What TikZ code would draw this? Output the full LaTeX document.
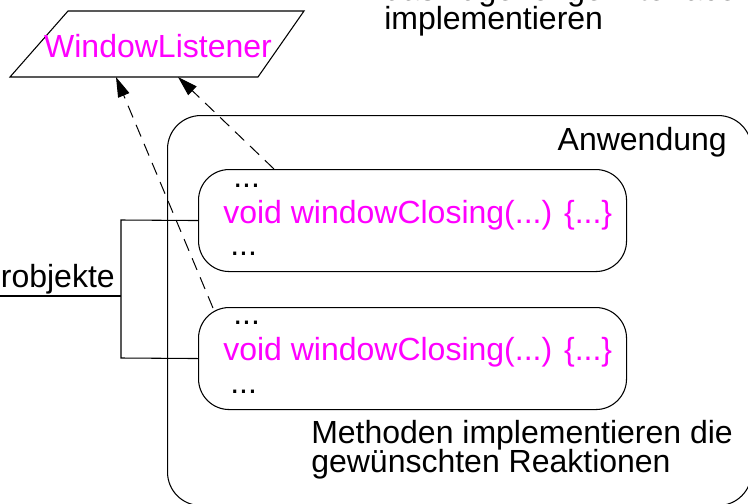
\documentclass[tikz,border=0pt]{standalone}
\usepackage{fontspec}
\setmainfont{Liberation Sans}
\usetikzlibrary{arrows.meta}
\definecolor{mag}{HTML}{FF00FF}
\begin{document}
\begin{tikzpicture}[x=0.75pt,y=-0.75pt,
  txt/.style={font=\fontsize{24pt}{26pt}\selectfont, inner sep=0pt, anchor=base west},
  mtxt/.style={txt, text=mag},
  box/.style={draw, line width=0.8pt, rounded corners=23pt, inner sep=0pt, anchor=north west},
  dep/.style={draw, line width=0.75pt, dash pattern=on 9.5pt off 6pt, -{Triangle[length=15pt,width=9pt]}},
  ln/.style={line width=0.8pt}]
\useasboundingbox (0,0) rectangle (748,503);
\clip (0,0) rectangle (748,503);
% interface parallelogram
\coordinate (pTL) at (68,11);
\coordinate (pTR) at (304,11);
\coordinate (pBR) at (258,77);
\coordinate (pBL) at (10,77);
\draw[ln] (pTL) -- (pTR) -- (pBR) -- (pBL) -- cycle;
\node[txt, text=mag, anchor=base] (wl) at (158,57) {WindowListener};
\coordinate (t1) at (116,77);
\coordinate (t2) at (178,77);
% top-right note
\node[txt] (note1) at (384,1) {das zugehörige Interface};
\node[txt] (note2) at (384,30) {implementieren};
% application box
\node[box, minimum width=584*0.75pt, minimum height=390*0.75pt, rounded corners=25pt] (app) at (167,115) {};
\node[txt, anchor=base east] (appl) at (727,150) {Anwendung};
% method boxes
\node[box, minimum width=428*0.75pt, minimum height=102*0.75pt] (m1) at (198,169) {};
\node[box, minimum width=428*0.75pt, minimum height=102*0.75pt] (m2) at (198,307) {};
\node[txt] (m1a) at (233,187) {...};
\node[mtxt] (m1b) at (223,223) {void windowClosing(...) \{...\}};
\node[txt] (m1c) at (230,255) {...};
\node[txt] (m2a) at (233,324) {...};
\node[mtxt] (m2b) at (223,360) {void windowClosing(...) \{...\}};
\node[txt] (m2c) at (230,393) {...};
% reactions note
\node[txt] (r1) at (311,443) {Methoden implementieren die};
\node[txt] (r2) at (311,472) {gewünschten Reaktionen};
% listener objects bracket
\node[txt, anchor=base east] (lo) at (115,287) {Listenerobjekte};
\coordinate (b1) at (121,220);
\coordinate (b2) at (121,358);
\coordinate (bm) at (121,296);
\coordinate (b0) at (0,296);
\draw[ln] (m1.west) -- (b1) -- (b2) -- (m2.west);
\draw[ln] (b0) -- (bm);
% realisation arrows
\coordinate (s1) at (213,308);
\coordinate (s2) at (274,169);
\draw[dep] (s1) -- (t1);
\draw[dep] (s2) -- (t2);
\end{tikzpicture}
\end{document}
